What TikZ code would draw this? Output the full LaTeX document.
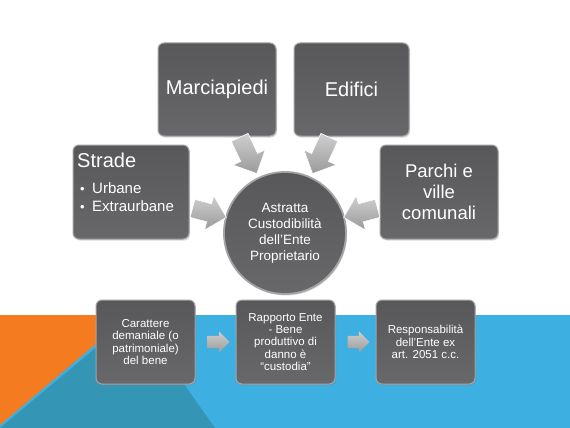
\documentclass[tikz,border=0pt]{standalone}
\usepackage{fontspec}
\setmainfont{Liberation Sans}
\usetikzlibrary{shapes.arrows,shadows}
\definecolor{orng}{HTML}{F47B20}
\definecolor{sky}{HTML}{3DAFE0}
\definecolor{tealdk}{HTML}{3595B5}
\definecolor{boxtop}{HTML}{58585A}
\definecolor{boxbot}{HTML}{68686A}
\definecolor{rimgray}{HTML}{A4A4A6}
\definecolor{arrlight}{HTML}{CFCFCF}
\definecolor{arrdark}{HTML}{9A9A9A}
\begin{document}
\begin{tikzpicture}[x=1pt,y=-1pt,
  box/.style={rectangle, rounded corners=6pt, draw=rimgray, line width=1pt,
    top color=boxtop, bottom color=boxbot, text=white, align=center,
    inner sep=2pt, drop shadow={opacity=0.3, shadow xshift=1pt, shadow yshift=-1.5pt}},
  bigtxt/.style={font=\fontsize{20}{23}\selectfont},
  midtxt/.style={font=\fontsize{13.5}{16}\selectfont},
  smalltxt/.style={font=\fontsize{11.5}{12.3}\selectfont},
  plain/.style={text=white, inner sep=0pt, anchor=base west},
  hub/.style={circle, minimum size=122pt, draw=rimgray, line width=1.8pt,
    top color=boxtop, bottom color=boxbot, text=white, align=center, inner sep=0pt,
    drop shadow={opacity=0.3, shadow xshift=1pt, shadow yshift=-1.5pt}},
  bigarrow/.style={single arrow, single arrow head extend=8.5pt, inner sep=0pt,
    top color=arrlight, bottom color=arrdark,
    draw=white, line width=0.6pt, sloped, allow upside down},
  smallarrow/.style={single arrow, single arrow head extend=4.5pt, inner sep=0pt,
    minimum height=22pt, top color=arrlight, bottom color=arrdark,
    draw=none, sloped}
]
\useasboundingbox (0,0) rectangle (570,428);
% background
\fill[white] (0,0) rectangle (570,428);
\fill[sky] (0,315) rectangle (570,428);
\fill[tealdk] (0,428) -- (135,315) -- (215,428) -- cycle;
\fill[orng] (0,315) -- (130,315) -- (0,425) -- cycle;

% top boxes
\node[box, bigtxt, minimum width=118pt, minimum height=93pt] (mar) at (217,89.5) {Marciapiedi};
\node[box, bigtxt, minimum width=115pt, minimum height=93pt] (edi) at (351.5,89.5) {Edifici};
\node[box, minimum width=116pt, minimum height=94pt] (str) at (131,192) {};
\node[plain, bigtxt] (strt) at (77,167) {Strade};
\node[plain, font=\fontsize{15}{17}\selectfont] (str1) at (80,193) {\makebox[12pt][l]{\fontsize{13}{14}\selectfont •}Urbane};
\node[plain, font=\fontsize{15}{17}\selectfont] (str2) at (80,211) {\makebox[12pt][l]{\fontsize{13}{14}\selectfont •}Extraurbane};
\node[box, font=\fontsize{18.5}{21}\selectfont, minimum width=118pt, minimum height=94pt] (par) at (439,192) {Parchi e\\ville\\comunali};

% hub
\node[hub, midtxt] (hubc) at (285,233) {Astratta\\Custodibilità\\dell’Ente\\Proprietario};

% big arrows
\path (mar.center) -- (hubc.center) node[bigarrow, minimum height=40pt, pos=0.43] (a1) {\rule{0pt}{18pt}};
\path (edi.center) -- (hubc.center) node[bigarrow, minimum height=40pt, pos=0.43] (a2) {\rule{0pt}{18pt}};
\path (str.center) -- (hubc.center) node[bigarrow, minimum height=35pt, pos=0.48] (a3) {\rule{0pt}{18pt}};
\path (par.center) -- (hubc.center) node[bigarrow, minimum height=35pt, pos=0.48] (a4) {\rule{0pt}{18pt}};

% bottom process
\node[box, smalltxt, minimum width=99pt, minimum height=84pt] (b1) at (145.5,342) {Carattere\\demaniale (o\\patrimoniale)\\del bene};
\node[box, smalltxt, minimum width=99pt, minimum height=84pt] (b2) at (285.5,342) {Rapporto Ente\\- Bene\\produttivo di\\danno è\\“custodia”};
\node[box, smalltxt, minimum width=99pt, minimum height=84pt] (b3) at (425.5,342) {Responsabilità\\dell’Ente ex\\art. 2051 c.c.};
\path (b1.east) -- (b2.west) node[smallarrow, midway] (s1) {\rule{0pt}{12pt}};
\path (b2.east) -- (b3.west) node[smallarrow, midway] (s2) {\rule{0pt}{12pt}};
\end{tikzpicture}
\end{document}
